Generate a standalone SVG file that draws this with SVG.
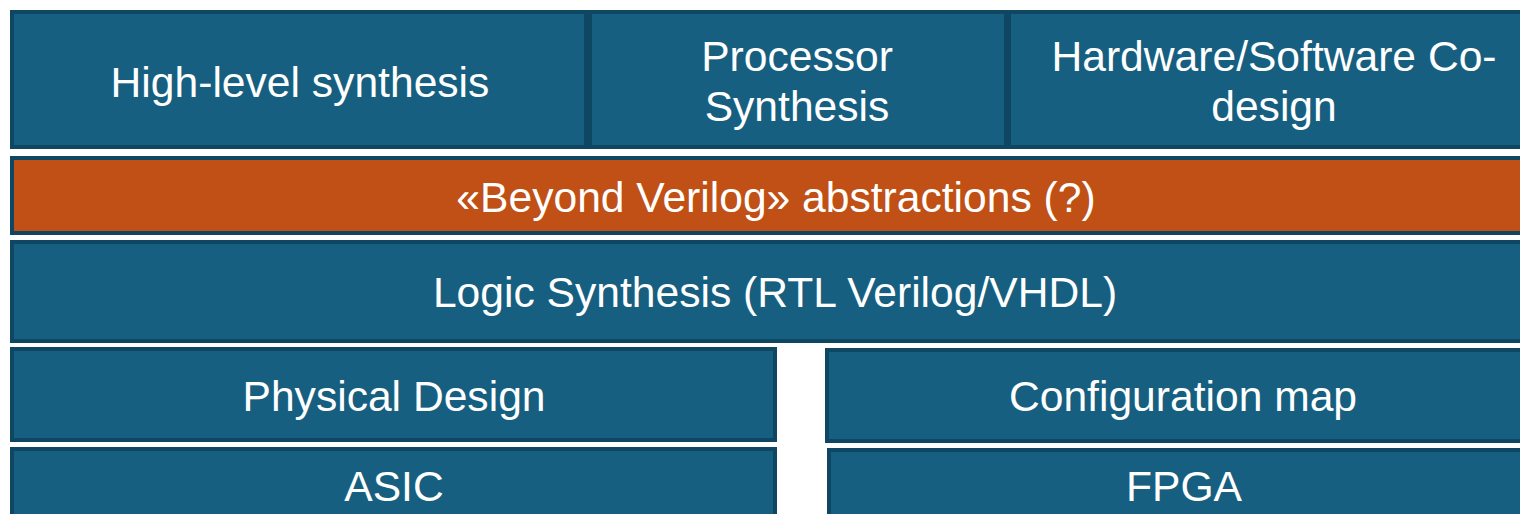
<svg xmlns="http://www.w3.org/2000/svg" width="1520" height="514" viewBox="0 0 1520 514">
<style>
.b{fill:#175f80;stroke:#0f4661;stroke-width:4}
.o{fill:#c05015;stroke:#0f4661;stroke-width:4}
.t{font-family:"Liberation Sans",Arial,sans-serif;font-size:42.6px;fill:#ffffff;text-anchor:middle}
</style>
<rect width="1520" height="514" fill="#ffffff"/>
<g id="hls"><rect class="b" x="12" y="12" width="574" height="135"/><text class="t" x="300" y="97">High-level synthesis</text></g>
<g id="proc"><rect class="b" x="590" y="12" width="416" height="135"/><text class="t" x="797" y="71">Processor</text><text class="t" x="797" y="121">Synthesis</text></g>
<g id="hwsw"><rect class="b" x="1009" y="12" width="531" height="135"/><text class="t" x="1274" y="71">Hardware/Software Co-</text><text class="t" x="1274" y="121">design</text></g>
<g id="beyond"><rect class="o" x="12" y="158" width="1528" height="75"/><text class="t" x="776" y="212">«Beyond Verilog» abstractions (?)</text></g>
<g id="logic"><rect class="b" x="12" y="242" width="1528" height="99"/><text class="t" x="775" y="307">Logic Synthesis (RTL Verilog/VHDL)</text></g>
<g id="physical"><rect class="b" x="12" y="349" width="763" height="91"/><text class="t" x="394" y="411">Physical Design</text></g>
<g id="config"><rect class="b" x="827" y="350" width="713" height="91"/><text class="t" x="1183" y="411">Configuration map</text></g>
<g id="asic"><rect class="b" x="12" y="449" width="763" height="80"/><text class="t" x="394" y="501">ASIC</text></g>
<g id="fpga"><rect class="b" x="829" y="450" width="711" height="80"/><text class="t" x="1184" y="501">FPGA</text></g>
<g id="connectors"></g>
</svg>
